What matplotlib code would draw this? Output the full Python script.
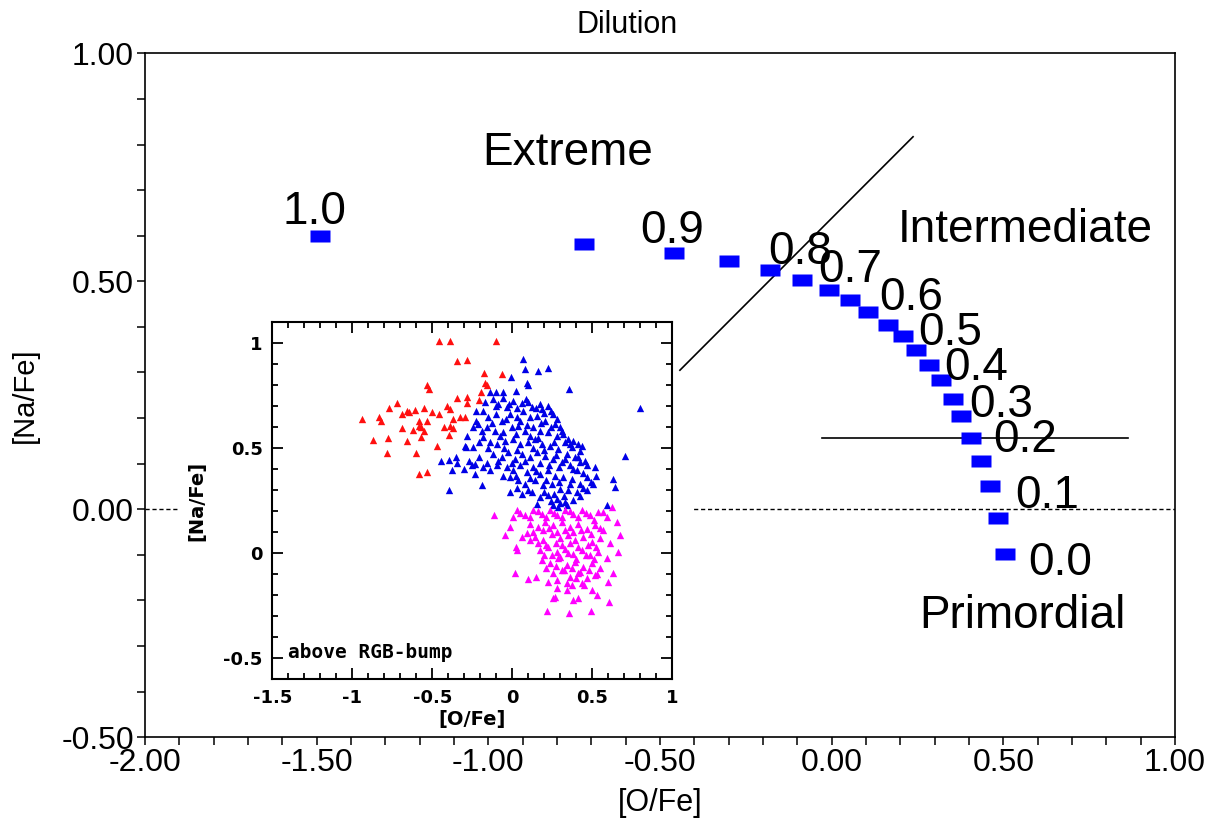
import matplotlib
matplotlib.use("Agg")
import matplotlib.pyplot as plt
from matplotlib.patches import Rectangle
from matplotlib.ticker import MultipleLocator, FormatStrFormatter

plt.rcParams['font.family'] = ['Liberation Sans', 'DejaVu Sans']

# dilution track (main panel)
dil_o = [-1.49, -0.72, -0.458, -0.30, -0.181, -0.085, -0.009, 0.052, 0.107, 0.163, 0.207,
         0.247, 0.282, 0.317, 0.352, 0.378, 0.405, 0.434, 0.460, 0.483, 0.504]
dil_na = [0.599, 0.581, 0.561, 0.544, 0.524, 0.502, 0.482, 0.460, 0.432, 0.404, 0.379,
          0.349, 0.316, 0.283, 0.241, 0.204, 0.156, 0.105, 0.050, -0.020, -0.099]

frac_labels = ['1.0', '0.9', '0.8', '0.7', '0.6', '0.5', '0.4', '0.3', '0.2', '0.1', '0.0']
frac_x = [-1.505, -0.465, -0.092, 0.054, 0.231, 0.345, 0.421, 0.493, 0.563, 0.627, 0.665]
frac_y = [0.626, 0.583, 0.539, 0.498, 0.437, 0.360, 0.284, 0.203, 0.126, 0.002, -0.144]

regions = ['Extreme', 'Intermediate', 'Primordial']
region_x = [-0.769, 0.563, 0.555]
region_y = [0.755, 0.587, -0.260]

# inset: observed stars above the RGB bump
red_o = [-0.46, -0.39, -0.10, -0.344, -0.285, -0.177, -0.067, -0.531, -0.519, -0.169,
         -0.160, -0.194, -0.210, -0.344, -0.285, -0.285, -0.719, -0.769, -0.660, -0.608,
         -0.552, -0.644, -0.690, -0.410, -0.390, -0.456, -0.504, -0.942, -0.831, -0.819,
         -0.581, -0.531, -0.369, -0.327, -0.298, -0.585, -0.569, -0.619, -0.692, -0.552,
         -0.390, -0.369, -0.427, -0.873, -0.775, -0.656, -0.569, -0.398, -0.469, -0.785,
         -0.604, -0.581, -0.535]
red_na = [1.01, 1.01, 1.01, 0.916, 0.921, 0.858, 0.853, 0.802, 0.782, 0.809,
          0.802, 0.766, 0.729, 0.739, 0.742, 0.714, 0.714, 0.691, 0.679, 0.682,
          0.691, 0.671, 0.663, 0.703, 0.687, 0.663, 0.671, 0.639, 0.647, 0.631,
          0.631, 0.631, 0.639, 0.650, 0.650, 0.608, 0.600, 0.587, 0.595, 0.584,
          0.608, 0.597, 0.603, 0.540, 0.549, 0.533, 0.552, 0.565, 0.513, 0.476,
          0.476, 0.378, 0.386]

blue_o = [0.065, 0.079, 0.163, 0.221, 0.356, 0.798, 0.704, -0.010, 0.090, 0.100,
          0.023, -0.056, -0.140, -0.227, -0.244, -0.281, -0.296, -0.290, -0.448, -0.394,
          -0.348, -0.377, -0.398, -0.254, -0.233, -0.181, -0.140, -0.160, -0.192, -0.244,
          -0.206, 0.631, 0.642, 0.590, 0.517, 0.523, 0.413, 0.433,
          -0.119, -0.088, -0.056, -0.035, 0.006, 0.058, 0.085, 0.121, 0.173, 0.183,
          0.225, 0.240, 0.256, -0.181, -0.150, -0.102, -0.067, -0.015, 0.027, 0.069,
          0.110, 0.152, 0.204, 0.267, 0.298, 0.319, 0.350, 0.381, -0.213, -0.160,
          -0.108, -0.056, -0.004, 0.038, 0.079, 0.131, 0.173, 0.225, 0.277, 0.329,
          0.371, 0.423, 0.454, 0.465, -0.181, -0.140, -0.098, -0.046, 0.006, 0.048,
          0.100, 0.142, 0.183, 0.235, 0.288, 0.340, 0.392, 0.423, -0.119, -0.067,
          -0.025, 0.017, 0.058, 0.110, 0.152, 0.204, 0.256, 0.308, 0.360, 0.402,
          0.465, -0.035, 0.006, 0.048, 0.090, 0.131, 0.173, 0.225, 0.267, 0.319,
          0.371, 0.423, 0.506, -0.015, 0.038, 0.079, 0.142, 0.194, 0.246, 0.298,
          0.350, 0.402, 0.465, -0.015, 0.058, 0.121, 0.173, 0.225, 0.277, 0.329,
          0.381, 0.152, 0.256, 0.340, 0.288, -0.233, -0.056, -0.098,
          -0.10, -0.02, 0.03, 0.10, 0.15, 0.20, 0.28, -0.13, -0.04, 0.05,
          0.09, 0.18, 0.24, 0.31, -0.19, -0.08, 0.02, 0.11, 0.16, 0.26,
          0.36, -0.15, -0.05, 0.03, 0.13, 0.20, 0.27, 0.33, 0.41, -0.09,
          0.00, 0.08, 0.17, 0.23, 0.29, 0.38, 0.44, 0.02, 0.11, 0.15,
          0.21, 0.29, 0.36, 0.44, 0.49, 0.03, 0.10, 0.20, 0.26, 0.32,
          0.42, 0.24, 0.30, -0.30, -0.27, -0.35, -0.21, -0.23, -0.17, -0.10]
blue_na = [0.924, 0.877, 0.869, 0.884, 0.782, 0.691, 0.465, 0.840, 0.813, 0.802,
           0.774, 0.766, 0.766, 0.679, 0.600, 0.560, 0.513, 0.505, 0.438, 0.445,
           0.429, 0.394, 0.299, 0.422, 0.378, 0.410, 0.394, 0.429, 0.323, 0.505,
           0.457, 0.354, 0.315, 0.228, 0.410, 0.370, 0.521, 0.513,
           0.734, 0.710, 0.739, 0.695, 0.726, 0.718, 0.734, 0.695, 0.710, 0.687,
           0.703, 0.679, 0.663, 0.679, 0.647, 0.663, 0.631, 0.663, 0.647, 0.679,
           0.647, 0.655, 0.631, 0.616, 0.600, 0.568, 0.544, 0.536, 0.616, 0.600,
           0.584, 0.576, 0.600, 0.608, 0.584, 0.600, 0.584, 0.576, 0.560, 0.528,
           0.505, 0.489, 0.441, 0.418, 0.552, 0.528, 0.521, 0.536, 0.544, 0.521,
           0.528, 0.544, 0.521, 0.513, 0.497, 0.473, 0.457, 0.434, 0.473, 0.457,
           0.481, 0.449, 0.473, 0.457, 0.481, 0.465, 0.449, 0.434, 0.418, 0.394,
           0.362, 0.410, 0.394, 0.418, 0.386, 0.410, 0.378, 0.394, 0.370, 0.362,
           0.354, 0.331, 0.331, 0.362, 0.347, 0.331, 0.347, 0.323, 0.331, 0.307,
           0.299, 0.291, 0.299, 0.291, 0.283, 0.291, 0.267, 0.275, 0.259, 0.244,
           0.252, 0.236, 0.228, 0.228, 0.220, 0.426, 0.370, 0.418,
           0.70, 0.71, 0.69, 0.72, 0.69, 0.67, 0.64, 0.62, 0.64, 0.63,
           0.61, 0.62, 0.60, 0.58, 0.58, 0.56, 0.57, 0.56, 0.55, 0.53,
           0.52, 0.50, 0.50, 0.49, 0.50, 0.49, 0.47, 0.45, 0.46, 0.44,
           0.43, 0.44, 0.43, 0.42, 0.41, 0.40, 0.38, 0.37, 0.36, 0.39,
           0.35, 0.34, 0.33, 0.31, 0.34, 0.31, 0.30, 0.29, 0.28, 0.27,
           0.27, 0.25, 0.24, 0.40, 0.44, 0.46, 0.53, 0.63, 0.72, 0.77]

mag_o = [-0.115, -0.046, 0.017, 0.100, 0.148, 0.225, 0.215, 0.252, 0.267, 0.356,
         0.340, 0.413, 0.490, 0.496, 0.527, 0.606, 0.600, 0.631, 0.673, 0.652,
         0.621, 0.565, 0.663, 0.023, 0.027, -0.015, 0.006, 0.058, 0.090, 0.110,
         0.027, 0.079, 0.131, 0.183, 0.235, 0.277, 0.329, 0.381, 0.433, 0.485,
         0.538, 0.590, 0.110, 0.163, 0.204, 0.256, 0.308, 0.360, 0.413, 0.465,
         0.517, 0.569, 0.142, 0.194, 0.246, 0.298, 0.350, 0.392, 0.444, 0.496,
         0.548, 0.610, 0.173, 0.225, 0.277, 0.329, 0.381, 0.433, 0.485, 0.538,
         0.590, 0.183, 0.235, 0.288, 0.340, 0.392, 0.444, 0.496, 0.548, 0.256,
         0.308, 0.360, 0.413, 0.465, 0.517, 0.277, 0.371, 0.433, 0.381,
         0.05, 0.11, 0.16, 0.21, 0.26, 0.31, 0.36, 0.41, 0.46, 0.51,
         0.13, 0.19, 0.23, 0.28, 0.33, 0.38, 0.43, 0.49, 0.55, 0.16,
         0.21, 0.27, 0.31, 0.36, 0.41, 0.47, 0.52, 0.20, 0.25, 0.30,
         0.35, 0.40, 0.46, 0.51, 0.21, 0.27, 0.32, 0.37, 0.42, 0.48,
         0.53, 0.28, 0.34, 0.40, 0.45]
mag_na = [0.180, 0.085, -0.097, -0.125, -0.112, -0.136, -0.278, -0.215, -0.207, -0.286,
          -0.176, -0.215, -0.278, -0.176, -0.199, -0.231, -0.136, -0.097, 0.085, 0.149,
          0.220, 0.196, 0.006, 0.030, 0.014, 0.125, 0.172, 0.078, 0.097, 0.062,
          0.204, 0.180, 0.204, 0.188, 0.204, 0.180, 0.204, 0.188, 0.204, 0.180,
          0.196, 0.172, 0.141, 0.125, 0.149, 0.133, 0.149, 0.125, 0.141, 0.117,
          0.133, 0.109, 0.078, 0.062, 0.093, 0.070, 0.085, 0.062, 0.078, 0.054,
          0.070, 0.046, 0.014, 0.030, 0.006, 0.022, -0.002, 0.014, -0.009, 0.006,
          -0.025, -0.033, -0.049, -0.025, -0.057, -0.041, -0.065, -0.049, -0.073, -0.097,
          -0.081, -0.112, -0.097, -0.120, -0.104, -0.168, -0.152, -0.144, -0.223,
          0.19, 0.17, 0.20, 0.17, 0.19, 0.17, 0.20, 0.17, 0.19, 0.16,
          0.10, 0.11, 0.12, 0.10, 0.11, 0.10, 0.11, 0.09, 0.12, 0.05,
          0.04, 0.05, 0.04, 0.05, 0.03, 0.04, 0.03, -0.01, -0.01, -0.02,
          0.00, -0.03, -0.01, -0.03, -0.07, -0.06, -0.08, -0.07, -0.09, -0.08,
          -0.10, -0.13, -0.14, -0.12, -0.15]

fig = plt.figure(figsize=(12.13, 8.19), dpi=100)
ax = fig.add_axes([0.1195, 0.0998, 0.8492, 0.8351])

rect_marker = [(-1.5, -1), (1.5, -1), (1.5, 1), (-1.5, 1), (-1.5, -1)]
ax.plot(dil_o, dil_na, ls='none', marker=rect_marker, ms=13.7, mfc='#0000ff',
        mec='none', zorder=5)

for lab, x, y in zip(frac_labels, frac_x, frac_y):
    ax.text(x, y, lab, ha='center', va='baseline', fontsize=33, zorder=6)
for lab, x, y in zip(regions, region_x, region_y):
    ax.text(x, y, lab, ha='center', va='baseline', fontsize=33, zorder=6)

ax.axhline(0, color='black', lw=1.0, ls=(0, (3, 2)), zorder=2)
ax.plot([-0.442, 0.237], [0.305, 0.817], color='black', lw=1.2, zorder=4)
ax.plot([-0.027, 0.863], [0.157, 0.157], color='black', lw=1.2, zorder=4)

# white backing of the inset panel
ax.add_patch(Rectangle((0.148, 0.1026), 0.4225, 0.525, transform=fig.transFigure,
                       facecolor='white', edgecolor='none', zorder=3, clip_on=False))

ax.set_xlim(-2, 1)
ax.set_ylim(-0.5, 1)
ax.xaxis.set_major_locator(MultipleLocator(0.5))
ax.xaxis.set_minor_locator(MultipleLocator(0.1))
ax.yaxis.set_major_locator(MultipleLocator(0.5))
ax.yaxis.set_minor_locator(MultipleLocator(0.1))
ax.xaxis.set_major_formatter(FormatStrFormatter('%.2f'))
ax.yaxis.set_major_formatter(FormatStrFormatter('%.2f'))
ax.tick_params(which='both', direction='out', length=6, width=1.1, top=False, right=False,
               labelsize=23, pad=2)
for sp in ax.spines.values():
    sp.set_linewidth(1.2)
ax.set_xlabel('[O/Fe]', fontsize=22, labelpad=7)
ax.set_ylabel('[Na/Fe]', fontsize=21, labelpad=16)
fig.text(0.517, 0.960, 'Dilution', ha='center', va='baseline', fontsize=22)

# inset
ins = fig.add_axes([0.2245, 0.1709, 0.3298, 0.4355])
ins.scatter(red_o, red_na, marker='^', s=28, color='#ff1010', linewidths=0)
ins.scatter(blue_o, blue_na, marker='^', s=28, color='#0000e6', linewidths=0)
ins.scatter(mag_o, mag_na, marker='^', s=28, color='#ff00ff', linewidths=0)
ins.set_xlim(-1.5, 1)
ins.set_ylim(-0.6, 1.1)
ins.xaxis.set_major_locator(MultipleLocator(0.5))
ins.xaxis.set_minor_locator(MultipleLocator(0.1))
ins.yaxis.set_major_locator(MultipleLocator(0.5))
ins.yaxis.set_minor_locator(MultipleLocator(0.1))
ins.xaxis.set_major_formatter(FormatStrFormatter('%g'))
ins.yaxis.set_major_formatter(FormatStrFormatter('%g'))
ins.tick_params(which='both', direction='in', top=True, right=True, width=1.3)
ins.tick_params(which='major', length=8, labelsize=13, pad=7)
ins.tick_params(which='minor', length=4)
for t in ins.get_xticklabels() + ins.get_yticklabels():
    t.set_fontfamily('DejaVu Sans')
    t.set_fontweight('bold')
for sp in ins.spines.values():
    sp.set_linewidth(1.5)
ins.set_xlabel('[O/Fe]', fontsize=14, fontweight='bold', family='DejaVu Sans', labelpad=2)
ins.set_ylabel('[Na/Fe]', fontsize=14, fontweight='bold', family='DejaVu Sans', labelpad=12)
ins.text(-1.40, -0.50, 'above RGB-bump', fontsize=14, fontweight='bold',
         family='DejaVu Sans Mono', ha='left', va='baseline')

fig.savefig('out.png', dpi=100)
